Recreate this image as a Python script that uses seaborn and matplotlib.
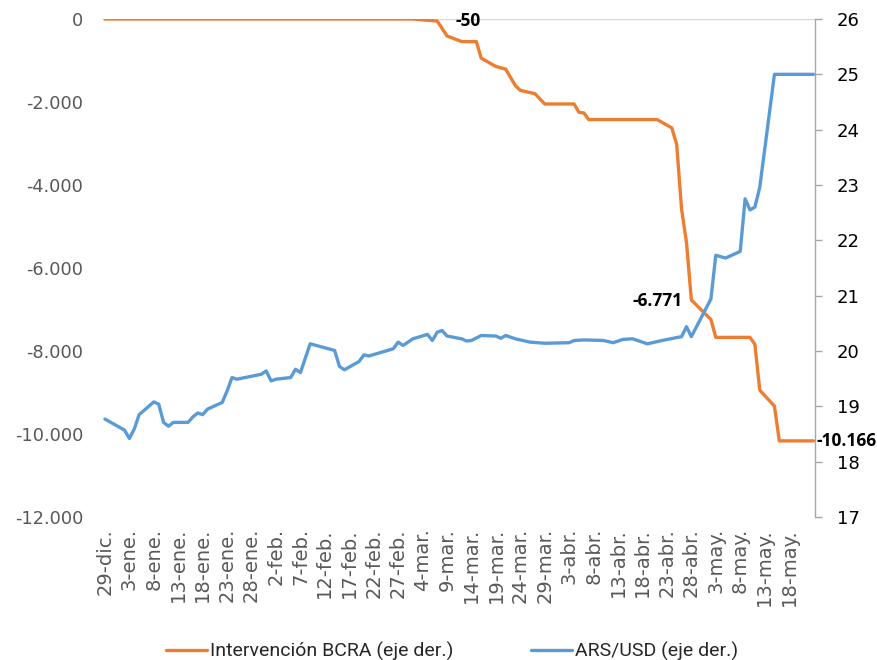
import matplotlib
matplotlib.use("Agg")
import matplotlib.pyplot as plt
from matplotlib.ticker import FixedLocator, FuncFormatter
from matplotlib.lines import Line2D
import pandas as pd
import seaborn as sns

# ARS/USD exchange rate (right axis)
usd_dates = [
    "2017-12-29", "2018-01-02", "2018-01-03", "2018-01-04", "2018-01-05",
    "2018-01-08", "2018-01-09", "2018-01-10", "2018-01-11", "2018-01-12",
    "2018-01-15", "2018-01-16", "2018-01-17", "2018-01-18", "2018-01-19",
    "2018-01-22", "2018-01-23", "2018-01-24", "2018-01-25", "2018-01-30",
    "2018-01-31", "2018-02-01", "2018-02-02", "2018-02-05", "2018-02-06",
    "2018-02-07", "2018-02-09", "2018-02-14", "2018-02-15", "2018-02-16",
    "2018-02-19", "2018-02-20", "2018-02-21", "2018-02-26", "2018-02-27",
    "2018-02-28", "2018-03-02", "2018-03-05", "2018-03-06", "2018-03-07",
    "2018-03-08", "2018-03-09", "2018-03-12", "2018-03-13", "2018-03-14",
    "2018-03-16", "2018-03-19", "2018-03-20", "2018-03-21", "2018-03-23",
    "2018-03-26", "2018-03-29", "2018-04-03", "2018-04-04", "2018-04-06",
    "2018-04-10", "2018-04-12", "2018-04-14", "2018-04-16", "2018-04-19",
    "2018-04-22", "2018-04-26", "2018-04-27", "2018-04-28", "2018-05-02",
    "2018-05-03", "2018-05-05", "2018-05-08", "2018-05-09", "2018-05-10",
    "2018-05-11", "2018-05-12", "2018-05-15", "2018-05-23",
]
usd_values = [
    18.77, 18.57, 18.42, 18.59, 18.85,
    19.08, 19.04, 18.71, 18.64, 18.71,
    18.71, 18.81, 18.88, 18.85, 18.95,
    19.07, 19.28, 19.52, 19.49, 19.58,
    19.64, 19.46, 19.49, 19.52, 19.67,
    19.61, 20.13, 20.01, 19.72, 19.66,
    19.81, 19.93, 19.91, 20.04, 20.16,
    20.10, 20.22, 20.30, 20.19, 20.34,
    20.37, 20.27, 20.22, 20.18, 20.19,
    20.28, 20.27, 20.23, 20.28, 20.22,
    20.16, 20.14, 20.15, 20.19, 20.20,
    20.19, 20.15, 20.21, 20.22, 20.13,
    20.19, 20.26, 20.44, 20.26, 20.94,
    21.73, 21.68, 21.80, 22.75, 22.55,
    22.60, 22.96, 25.00, 25.00,
]

# Cumulative BCRA intervention, USD millions (left axis)
bcra_dates = [
    "2017-12-29", "2018-03-02", "2018-03-04", "2018-03-07", "2018-03-09",
    "2018-03-12", "2018-03-15", "2018-03-16", "2018-03-19", "2018-03-21",
    "2018-03-23", "2018-03-24", "2018-03-27", "2018-03-29", "2018-04-04",
    "2018-04-05", "2018-04-06", "2018-04-07", "2018-04-21", "2018-04-24",
    "2018-04-25", "2018-04-26", "2018-04-27", "2018-04-28", "2018-05-02",
    "2018-05-03", "2018-05-10", "2018-05-11", "2018-05-12", "2018-05-15",
    "2018-05-16", "2018-05-23",
]
bcra_values = [
    0, 0, -20, -50, -408,
    -544, -544, -944, -1144, -1208,
    -1608, -1720, -1800, -2048, -2048,
    -2248, -2264, -2424, -2424, -2624,
    -3024, -4584, -5384, -6771, -7240,
    -7672, -7672, -7840, -8944, -9328,
    -10166, -10166,
]

# Labelled points: (date, value, text offset in points, horizontal alignment)
labelled = [
    ("2018-03-07", -50, (13, 0), "left"),
    ("2018-04-28", -6771, (-6, -1), "right"),
    ("2018-05-23", -10166, (2, 0), "left"),
]

tick_dates = pd.date_range("2017-12-29", "2018-05-18", freq="5D")
tick_labels = [
    "29-dic.", "3-ene.", "8-ene.", "13-ene.", "18-ene.", "23-ene.", "28-ene.",
    "2-feb.", "7-feb.", "12-feb.", "17-feb.", "22-feb.", "27-feb.", "4-mar.",
    "9-mar.", "14-mar.", "19-mar.", "24-mar.", "29-mar.", "3-abr.", "8-abr.",
    "13-abr.", "18-abr.", "23-abr.", "28-abr.", "3-may.", "8-may.", "13-may.",
    "18-may.",
]

ORANGE = "#ED7D31"
BLUE = "#5B9BD5"
GREY_TXT = "#595959"

sns.set_style("white")
plt.rcParams["font.family"] = ["DejaVu Sans"]

usd = pd.DataFrame({"fecha": pd.to_datetime(usd_dates), "valor": usd_values})
bcra = pd.DataFrame({"fecha": pd.to_datetime(bcra_dates), "valor": bcra_values})

W, H = 877, 660
fig = plt.figure(figsize=(W / 100, H / 100), dpi=100)
left_px, right_px, top_px, bottom_px = 102.5, 815, 19, 517
ax = fig.add_axes([left_px / W, 1 - bottom_px / H,
                   (right_px - left_px) / W, (bottom_px - top_px) / H])
ax2 = ax.twinx()

ax.axhline(0, color="#D9D9D9", lw=1.0, zorder=1)
sns.lineplot(data=bcra, x="fecha", y="valor", ax=ax, color=ORANGE,
             lw=2.4, zorder=3, legend=False)
sns.lineplot(data=usd, x="fecha", y="valor", ax=ax2, color=BLUE,
             lw=2.4, zorder=3, legend=False)

x0 = pd.Timestamp("2017-12-29")
ax.set_xlim(x0 - pd.Timedelta(hours=12), x0 + pd.Timedelta(days=145.3))

ax.set_ylim(-12000, 0)
ax.yaxis.set_major_locator(FixedLocator(range(-12000, 1, 2000)))
ax.yaxis.set_major_formatter(
    FuncFormatter(lambda v, _: f"{int(round(v)):,}".replace(",", ".")))
ax.tick_params(axis="y", length=0, pad=14, labelsize=12.8, labelcolor=GREY_TXT)

ax2.set_ylim(17, 26)
ax2.yaxis.set_major_locator(FixedLocator(range(17, 27)))
ax2.yaxis.set_major_formatter(FuncFormatter(lambda v, _: f"{int(round(v))}"))
ax2.tick_params(axis="y", which="both", left=False, right=True,
                labelleft=False, labelright=True, length=5, width=1,
                color="#A6A6A6", pad=10.5, labelsize=13, labelcolor="#000000",
                direction="out")

ax.set_xticks(tick_dates)
ax.set_xticklabels(tick_labels, rotation=90, ha="center", va="top")
ax.tick_params(axis="x", length=0, pad=8, labelsize=14, labelcolor=GREY_TXT)

for a in (ax, ax2):
    for s in a.spines.values():
        s.set_visible(False)
    a.set_xlabel("")
    a.set_ylabel("")
    a.grid(False)
ax2.spines["right"].set_visible(True)
ax2.spines["right"].set_color("#A6A6A6")
ax2.spines["right"].set_linewidth(1)

for d, v, off, ha in labelled:
    ax.annotate(f"{v:,}".replace(",", "."), xy=(pd.Timestamp(d), v),
                xytext=off, textcoords="offset points", ha=ha, va="center",
                fontsize=12.5, fontweight="bold", color="#000000",
                family=["Open Sans", "DejaVu Sans"], annotation_clip=False,
                zorder=5)

handles = [Line2D([], [], color=ORANGE, lw=2.4),
           Line2D([], [], color=BLUE, lw=2.4)]
fig.legend(handles, ["Intervención BCRA (eje der.)", "ARS/USD (eje der.)"],
           loc="center", bbox_to_anchor=(452 / W, 1 - 651 / H), ncol=2,
           frameon=False, handlelength=2.1, handletextpad=0.15,
           columnspacing=4.0, labelcolor="#262626",
           prop={"family": ["Roboto", "DejaVu Sans"], "size": 14})

fig.savefig("out.png", dpi=100)
